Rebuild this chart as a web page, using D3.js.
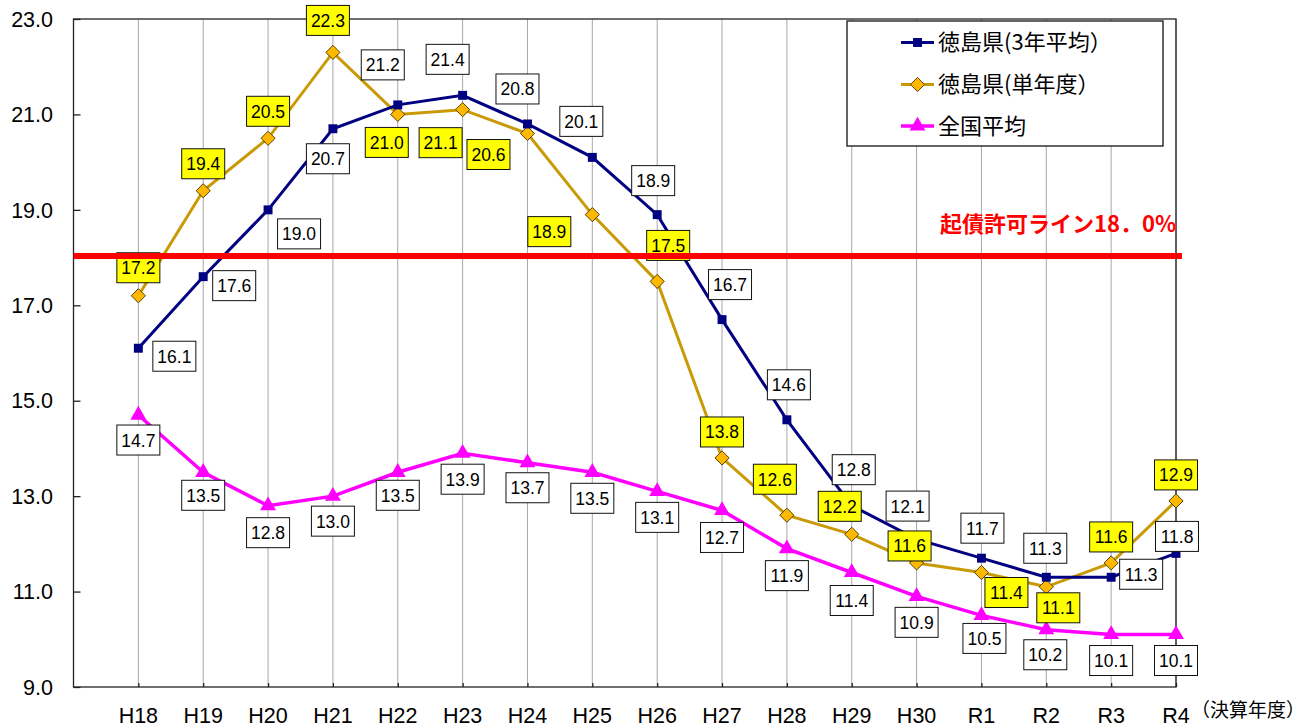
<!DOCTYPE html>
<html lang="ja">
<head>
<meta charset="utf-8">
<script src="https://cdn.jsdelivr.net/npm/d3@7"></script>
<style>
  html, body { margin: 0; padding: 0; background: #fff; }
  svg { display: block; }
</style>
</head>
<body>
<svg id="chart" width="1308" height="727"></svg>
<script>
// 実質公債費比率の推移
const categories = ["H18","H19","H20","H21","H22","H23","H24","H25","H26","H27","H28","H29","H30","R1","R2","R3","R4"];
const avg3 = [16.1,17.6,19.0,20.7,21.2,21.4,20.8,20.1,18.9,16.7,14.6,12.8,12.1,11.7,11.3,11.3,11.8];
const single = [17.2,19.4,20.5,22.3,21.0,21.1,20.6,18.9,17.5,13.8,12.6,12.2,11.6,11.4,11.1,11.6,12.9];
const national = [14.7,13.5,12.8,13.0,13.5,13.9,13.7,13.5,13.1,12.7,11.9,11.4,10.9,10.5,10.2,10.1,10.1];
const yTicks = [9,11,13,15,17,19,21,23];
const limitValue = 18.0;
const seriesNames = ["徳島県(3年平均）", "徳島県(単年度）", "全国平均"];
const limitText = "起債許可ライン18．0%";
const unitText = "（決算年度）";

// label placement relative to each point (px)
const avg3Offsets = [[36,8],[31,9],[31,24],[-5,30],[-15,-40],[-15,-36],[-10,-35],[-11,-36],[-4,-34],[8,-35],[2,-35],[2,-36],[-9,-33],[1,-30],[-1,-29],[30,-3],[1,-17]];
const singleOffsets = [[0,-28],[0,-27],[0,-27],[-5,-32],[-11,28],[-22,33],[-39,21],[-43,17],[11,-36],[0,-26],[-12,-36],[-12,-28],[-7,-17],[25,20],[12,21],[0,-26],[0,-26]];
const nationalOffsets = [[0,25],[0,23],[0,27],[0,25],[0,23],[0,26],[0,25],[0,26],[0,26],[0,27],[0,27],[0,28],[0,26],[3,23],[-1,25],[0,26],[0,26]];

const svg = d3.select("#chart");
const plotLeft = 73.5, plotRight = 1176, plotTop = 19, plotBottom = 687;

const x = d3.scaleLinear().domain([-1, categories.length - 1]).range([plotLeft, plotRight]);
const y = d3.scaleLinear().domain([9, 23]).range([plotBottom, plotTop]);

const numFont = "'Liberation Sans', Arial, sans-serif";
const jpFont = "'Noto Sans CJK JP', sans-serif";

// vertical gridlines at each category
svg.append("g").selectAll("line").data(categories).join("line")
  .attr("x1", (d, i) => x(i)).attr("x2", (d, i) => x(i))
  .attr("y1", plotTop).attr("y2", plotBottom)
  .attr("stroke", "#a8a8a8").attr("stroke-width", 1);

// plot frame
svg.append("rect").attr("x", plotLeft).attr("y", plotTop)
  .attr("width", plotRight - plotLeft).attr("height", plotBottom - plotTop)
  .attr("fill", "none").attr("stroke", "#222").attr("stroke-width", 1.3);

// y axis (inward ticks)
const yAxis = d3.axisRight(y).tickValues(yTicks).tickSize(7).tickFormat("");
const gy = svg.append("g").attr("transform", `translate(${plotLeft},0)`).call(yAxis);
gy.select(".domain").remove();
gy.selectAll("line").attr("stroke", "#222").attr("stroke-width", 1.3);
svg.append("g").selectAll("text").data(yTicks).join("text")
  .attr("x", 53).attr("y", d => y(d)).attr("dy", "0.36em")
  .attr("text-anchor", "end").attr("font-family", numFont).attr("font-size", 21.5)
  .attr("fill", "#000").text(d => d3.format(".1f")(d));

// x axis ticks and labels
const gx = svg.append("g").attr("transform", `translate(0,${plotBottom})`)
  .call(d3.axisTop(x).tickValues(d3.range(categories.length)).tickSize(4).tickFormat(""));
gx.select(".domain").remove();
gx.selectAll("line").attr("stroke", "#222").attr("stroke-width", 1.3);
svg.append("g").selectAll("text").data(categories).join("text")
  .attr("x", (d, i) => x(i)).attr("y", 723)
  .attr("text-anchor", "middle").attr("font-family", numFont).attr("font-size", 21.5)
  .attr("fill", "#000").text(d => d);
svg.append("text").attr("x", x(categories.length - 1) + 15).attr("y", 717)
  .attr("font-family", jpFont).attr("font-size", 19).attr("fill", "#000").text(unitText);

const line = d3.line().x((d, i) => x(i)).y(d => y(d));

// series lines
const colors = { avg3: "#000080", single: "#C99A06", national: "#FF00FF" };
svg.append("path").datum(single).attr("d", line).attr("fill", "none")
  .attr("stroke", colors.single).attr("stroke-width", 3);
svg.append("path").datum(avg3).attr("d", line).attr("fill", "none")
  .attr("stroke", colors.avg3).attr("stroke-width", 3);
svg.append("path").datum(national).attr("d", line).attr("fill", "none")
  .attr("stroke", colors.national).attr("stroke-width", 3.5);

// markers
const sq = d3.symbol().type(d3.symbolSquare).size(80);
const dia = d3.symbol().type(d3.symbolSquare).size(100); // rotated 45deg when placed
const tri = d3.symbol().type(d3.symbolTriangle).size(110);
svg.append("g").selectAll("path").data(national).join("path")
  .attr("transform", (d, i) => `translate(${x(i)},${y(d)})`)
  .attr("d", tri).attr("fill", colors.national);
svg.append("g").selectAll("path").data(single).join("path")
  .attr("transform", (d, i) => `translate(${x(i)},${y(d)}) rotate(45)`)
  .attr("d", dia).attr("fill", "#FFB800").attr("stroke", "#4a3a00").attr("stroke-width", 0.9);
svg.append("g").selectAll("path").data(avg3).join("path")
  .attr("transform", (d, i) => `translate(${x(i)},${y(d)})`)
  .attr("d", sq).attr("fill", colors.avg3);

// data labels
function drawLabels(values, offsets, fill) {
  const g = svg.append("g").selectAll("g").data(values).join("g")
    .attr("transform", (d, i) => `translate(${x(i) + offsets[i][0]},${y(d) + offsets[i][1]})`);
  g.append("rect").attr("x", -21.5).attr("y", -15).attr("width", 43).attr("height", 30)
    .attr("fill", fill).attr("stroke", "#111").attr("stroke-width", 1);
  g.append("text").attr("text-anchor", "middle").attr("dy", "0.37em")
    .attr("font-family", numFont).attr("font-size", 17.5).attr("fill", "#000")
    .text(d => d3.format(".1f")(d));
}
drawLabels(national, nationalOffsets, "#fff");
drawLabels(avg3, avg3Offsets, "#fff");
drawLabels(single, singleOffsets, "#FFFF00");

// borrowing permission threshold
svg.append("line").attr("x1", plotLeft).attr("x2", plotRight + 6)
  .attr("y1", y(limitValue) - 1.5).attr("y2", y(limitValue) - 1.5)
  .attr("stroke", "#FF0000").attr("stroke-width", 6);
svg.append("text").attr("x", 940).attr("y", y(limitValue) - 26)
  .attr("font-family", jpFont).attr("font-weight", "bold")
  .attr("font-size", 22).attr("fill", "#FF0000").text(limitText);

// legend
const legend = svg.append("g");
legend.append("rect").attr("x", 847).attr("y", 21).attr("width", 316).attr("height", 125)
  .attr("fill", "#fff").attr("stroke", "#111").attr("stroke-width", 1.3);
const legendRows = [
  { name: seriesNames[0], color: colors.avg3, mark: "sq" },
  { name: seriesNames[1], color: colors.single, mark: "dia" },
  { name: seriesNames[2], color: colors.national, mark: "tri" }
];
const rowY = [42.5, 84.5, 126];
legendRows.forEach((r, i) => {
  const ly = rowY[i];
  legend.append("line").attr("x1", 901).attr("x2", 934).attr("y1", ly).attr("y2", ly)
    .attr("stroke", r.color).attr("stroke-width", r.mark === "tri" ? 3.5 : 3);
  const m = legend.append("path").attr("transform", `translate(917.5,${ly})`);
  if (r.mark === "sq") m.attr("d", sq).attr("fill", r.color);
  if (r.mark === "dia") m.attr("transform", `translate(917.5,${ly}) rotate(45)`)
    .attr("d", dia).attr("fill", "#FFB800").attr("stroke", "#4a3a00").attr("stroke-width", 0.9);
  if (r.mark === "tri") m.attr("d", tri).attr("fill", r.color);
  legend.append("text").attr("x", 938).attr("y", ly).attr("dy", "0.36em")
    .attr("font-family", jpFont).attr("font-size", 22).attr("fill", "#000").text(r.name);
});
</script>
</body>
</html>
